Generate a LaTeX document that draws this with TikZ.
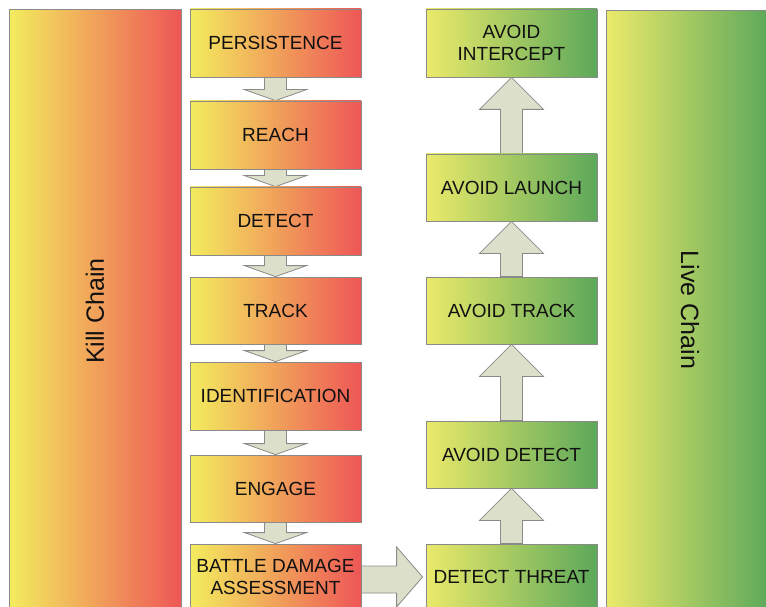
\documentclass[tikz,border=0pt]{standalone}
\usepackage{fontspec}
\setmainfont{Liberation Sans}
\usetikzlibrary{calc,backgrounds}
\definecolor{kyel}{HTML}{F3EC5E}
\definecolor{kmid}{HTML}{F4B05D}
\definecolor{kred}{HTML}{EE5656}
\definecolor{gyel}{HTML}{EBEA6A}
\definecolor{gmid}{HTML}{B0D363}
\definecolor{ggrn}{HTML}{5CA85A}
\definecolor{edgegray}{HTML}{8A8A8A}
\definecolor{arrfill}{HTML}{DCDFCA}
\definecolor{txt}{HTML}{111111}
\tikzset{
  redbox/.style={draw=edgegray, line width=0.8pt, left color=kyel, middle color=kmid, right color=kred,
    minimum width=171pt, minimum height=68pt, inner sep=0pt, align=center,
    font=\fontsize{19}{22}\selectfont, text=txt},
  greenbox/.style={redbox, left color=gyel, middle color=gmid, right color=ggrn},
  bigtext/.style={font=\fontsize{25}{28}\selectfont, text=txt},
  arrowshape/.style={fill=arrfill, draw=edgegray, line width=0.8pt, line join=miter}
}
\newcommand\dnarr[2]{%
  \draw[arrowshape] ($(#1.south)+(-11,0)$) -- ($(#2.north)+(-11,-11)$) -- ($(#2.north)+(-31,-11)$) --
    (#2.north) -- ($(#2.north)+(31,-11)$) -- ($(#2.north)+(11,-11)$) -- ($(#1.south)+(11,0)$) -- cycle;}
\newcommand\uparr[2]{%
  \draw[arrowshape] ($(#1.north)+(-11,0)$) -- ($(#2.south)+(-11,32)$) -- ($(#2.south)+(-32,32)$) --
    (#2.south) -- ($(#2.south)+(32,32)$) -- ($(#2.south)+(11,32)$) -- ($(#1.north)+(11,0)$) -- cycle;}
\begin{document}
\begin{tikzpicture}[x=1pt,y=-1pt]
\useasboundingbox (0,0) rectangle (766,607);
% big side panels
\node[draw=edgegray, line width=0.8pt, left color=kyel, middle color=kmid, right color=kred,
  minimum width=172pt, minimum height=604pt, inner sep=0pt, anchor=north west] (kill) at (9,9) {};
\node[bigtext, rotate=90] (killtxt) at (95,311) {Kill Chain};
\node[draw=edgegray, line width=0.8pt, left color=gyel, middle color=gmid, right color=ggrn,
  minimum width=164pt, minimum height=604pt, inner sep=0pt, anchor=north west] (live) at (606,10) {};
\node[bigtext, rotate=-90] (livetxt) at (690,310) {Live Chain};
% kill chain steps
\node[redbox] (pers) at (275.5,43) {PERSISTENCE};
\node[redbox] (reach) at (275.5,135) {REACH};
\node[redbox] (det) at (275.5,221) {DETECT};
\node[redbox, minimum height=67pt] (track) at (275.5,310.5) {TRACK};
\node[redbox] (ident) at (275.5,396) {IDENTIFICATION};
\node[redbox, minimum height=67pt] (eng) at (275.5,488.5) {ENGAGE};
\node[redbox, minimum height=66pt] (bda) at (275.5,577) {BATTLE DAMAGE\\ASSESSMENT};
% live chain steps
\node[greenbox] (aint) at (511.5,43) {AVOID\\INTERCEPT};
\node[greenbox, minimum height=67pt] (alaunch) at (511.5,187.5) {AVOID LAUNCH};
\node[greenbox, minimum height=67pt] (atrack) at (511.5,310.5) {AVOID TRACK};
\node[greenbox, minimum height=67pt] (adet) at (511.5,454.5) {AVOID DETECT};
\node[greenbox, minimum height=66pt] (dthreat) at (511.5,577) {DETECT THREAT};
\begin{scope}[on background layer]
\dnarr{pers}{reach}
\dnarr{reach}{det}
\dnarr{det}{track}
\dnarr{track}{ident}
\dnarr{ident}{eng}
\dnarr{eng}{bda}
\uparr{alaunch}{aint}
\uparr{atrack}{alaunch}
\uparr{adet}{atrack}
\uparr{dthreat}{adet}
\draw[arrowshape] ($(bda.east)+(0,-11)$) -- ($(dthreat.west)+(-29,-11)$) -- ($(dthreat.west)+(-29,-30)$) --
  ($(dthreat.west)+(-3,0)$) -- ($(dthreat.west)+(-29,30)$) -- ($(dthreat.west)+(-29,16)$) -- ($(bda.east)+(0,16)$) -- cycle;
\end{scope}
\end{tikzpicture}
\end{document}
